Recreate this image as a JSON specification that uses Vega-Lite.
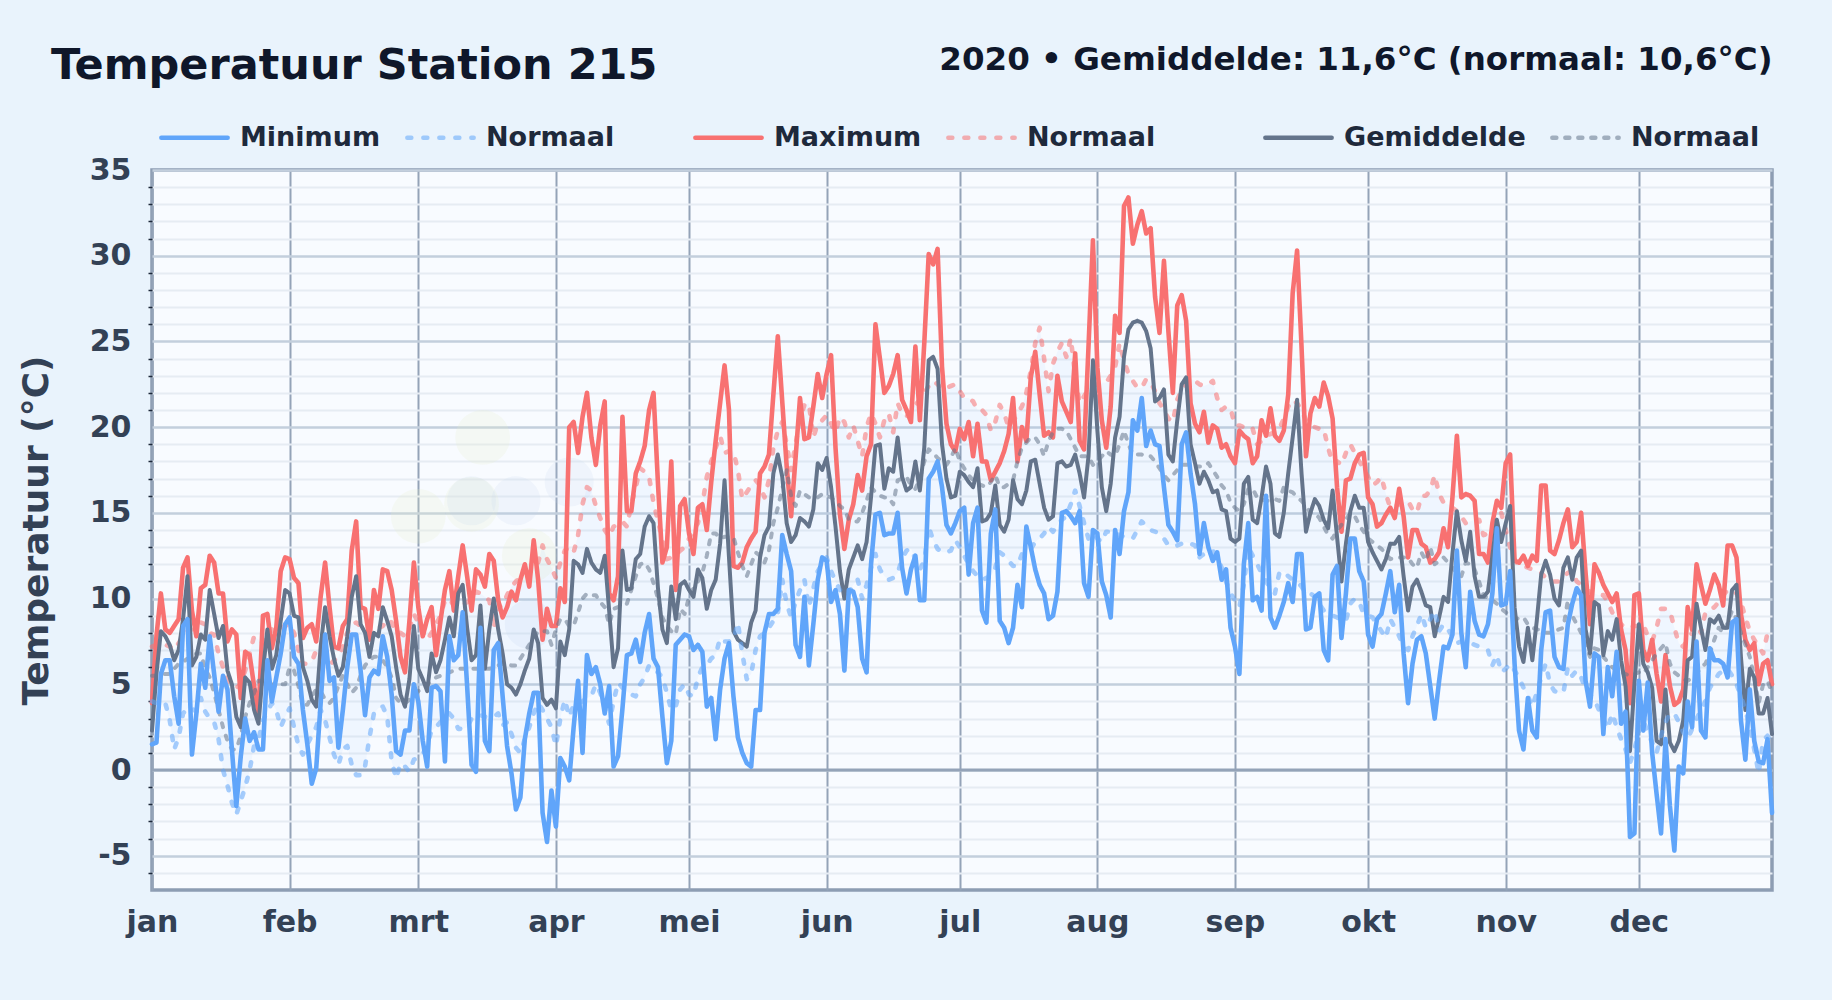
{"$schema":"https://vega.github.io/schema/vega-lite/v6.json","width":1620,"height":720,"autosize":{"type":"none"},"padding":{"left":152,"top":170,"right":60,"bottom":110},"background":"#e9f3fc",
"config":{"view":{"fill":"#f8fbff","stroke":"#8d9db3","strokeWidth":3.5},"font":"DejaVu Sans"},
"title":{"text":"Temperatuur Station 215","anchor":"start","font":"DejaVu Sans","fontSize":43,"fontWeight":"bold","color":"#0f172a","dx":33,"dy":45,"offset":0},
"data":{"values":[
{"d":0,"min":1.5,"max":3.9,"gem":2.3,"nmin":4,"nmax":7.2,"ngem":5.5},
{"d":1,"min":1.6,"max":7.8,"gem":5.6,"nmin":3.9,"nmax":7.3,"ngem":5.5},
{"d":2,"min":5.6,"max":10.3,"gem":8.1,"nmin":3.8,"nmax":7.4,"ngem":5.6},
{"d":3,"min":6.4,"max":8.2,"gem":7.8,"nmin":3.9,"nmax":7.3,"ngem":5.6},
{"d":4,"min":6.4,"max":8,"gem":7.3,"nmin":2.9,"nmax":7.2,"ngem":5.6},
{"d":5,"min":4.3,"max":8.4,"gem":6.4,"nmin":1.2,"nmax":7,"ngem":5.9},
{"d":6,"min":2.7,"max":8.8,"gem":7,"nmin":1.9,"nmax":7.4,"ngem":6.2},
{"d":7,"min":8.4,"max":11.8,"gem":8.8,"nmin":3.3,"nmax":7.8,"ngem":6.3},
{"d":8,"min":8.8,"max":12.4,"gem":11.3,"nmin":3.6,"nmax":8.1,"ngem":6.5},
{"d":9,"min":0.9,"max":9.3,"gem":6.1,"nmin":3.6,"nmax":8.2,"ngem":6.6},
{"d":10,"min":3.3,"max":7.8,"gem":6.6,"nmin":3.4,"nmax":8.4,"ngem":6.8},
{"d":11,"min":6.2,"max":10.6,"gem":7.9,"nmin":4.2,"nmax":8.6,"ngem":6.8},
{"d":12,"min":4.8,"max":10.8,"gem":7.6,"nmin":3.4,"nmax":8.5,"ngem":5.9},
{"d":13,"min":7.8,"max":12.5,"gem":10.5,"nmin":3,"nmax":8,"ngem":5.4},
{"d":14,"min":5.6,"max":12.1,"gem":9.1,"nmin":2.8,"nmax":7.9,"ngem":4.5},
{"d":15,"min":3.4,"max":10.3,"gem":7.7,"nmin":1.8,"nmax":6.8,"ngem":3.5},
{"d":16,"min":5.5,"max":10.3,"gem":8.4,"nmin":0,"nmax":6,"ngem":2.5},
{"d":17,"min":4.7,"max":7.5,"gem":5.8,"nmin":-0.9,"nmax":5.3,"ngem":1.7},
{"d":18,"min":1.2,"max":8.2,"gem":5,"nmin":-1.9,"nmax":4.9,"ngem":1.2},
{"d":19,"min":-2.1,"max":7.9,"gem":3.1,"nmin":-2.6,"nmax":4.8,"ngem":1.2},
{"d":20,"min":0.8,"max":4.2,"gem":2.5,"nmin":-1.8,"nmax":5,"ngem":2},
{"d":21,"min":3,"max":6.9,"gem":5.4,"nmin":-1,"nmax":5.8,"ngem":3.1},
{"d":22,"min":1.7,"max":6.7,"gem":5.1,"nmin":0,"nmax":6.8,"ngem":3.9},
{"d":23,"min":2.2,"max":4.9,"gem":3.5,"nmin":1.4,"nmax":7.8,"ngem":4.5},
{"d":24,"min":1.2,"max":3.3,"gem":2.7,"nmin":1.8,"nmax":7.6,"ngem":5.2},
{"d":25,"min":1.2,"max":9,"gem":5.8,"nmin":2.9,"nmax":7.4,"ngem":5.2},
{"d":26,"min":6.4,"max":9.1,"gem":8.2,"nmin":3.4,"nmax":8,"ngem":5.1},
{"d":27,"min":4,"max":7.1,"gem":5.9,"nmin":3.9,"nmax":8.2,"ngem":5},
{"d":28,"min":5.4,"max":8.3,"gem":6.7,"nmin":3.5,"nmax":8,"ngem":4.9},
{"d":29,"min":6.8,"max":11.6,"gem":8.7,"nmin":2.5,"nmax":8.3,"ngem":5},
{"d":30,"min":8.5,"max":12.4,"gem":10.5,"nmin":3.1,"nmax":8.4,"ngem":5},
{"d":31,"min":8.9,"max":12.3,"gem":10.3,"nmin":3.6,"nmax":8.5,"ngem":6},
{"d":32,"min":6.6,"max":11.2,"gem":9,"nmin":2.5,"nmax":8,"ngem":5.8},
{"d":33,"min":6.2,"max":10.9,"gem":8.9,"nmin":1.4,"nmax":7,"ngem":4.9},
{"d":34,"min":3.5,"max":7.7,"gem":6,"nmin":0.9,"nmax":6.2,"ngem":3.8},
{"d":35,"min":1.5,"max":8.3,"gem":5.2,"nmin":1.5,"nmax":6.2,"ngem":3.8},
{"d":36,"min":-0.8,"max":8.5,"gem":4.1,"nmin":2,"nmax":6.3,"ngem":4.3},
{"d":37,"min":0.1,"max":7.5,"gem":3.7,"nmin":2.5,"nmax":7,"ngem":4.7},
{"d":38,"min":3.9,"max":10.1,"gem":7.2,"nmin":3.5,"nmax":6.8,"ngem":4.6},
{"d":39,"min":7.9,"max":12.1,"gem":9.5,"nmin":2.9,"nmax":6.4,"ngem":4.1},
{"d":40,"min":5.2,"max":9.5,"gem":7.8,"nmin":1.9,"nmax":6.1,"ngem":3.9},
{"d":41,"min":5.4,"max":7.2,"gem":6.5,"nmin":0.9,"nmax":6.4,"ngem":4.2},
{"d":42,"min":1.3,"max":7.1,"gem":5.5,"nmin":0.3,"nmax":6.6,"ngem":4.9},
{"d":43,"min":3.5,"max":8.4,"gem":6,"nmin":1.2,"nmax":7.2,"ngem":5.5},
{"d":44,"min":6,"max":8.8,"gem":7.8,"nmin":1.4,"nmax":8,"ngem":5},
{"d":45,"min":7.9,"max":12.8,"gem":10.1,"nmin":0.3,"nmax":8.5,"ngem":4.5},
{"d":46,"min":7.9,"max":14.5,"gem":11.3,"nmin":-0.3,"nmax":8.6,"ngem":4.8},
{"d":47,"min":5.8,"max":9.5,"gem":8.5,"nmin":-0.3,"nmax":8.4,"ngem":5.5},
{"d":48,"min":3.2,"max":9.4,"gem":8,"nmin":0.2,"nmax":8.2,"ngem":6.1},
{"d":49,"min":5.4,"max":7.6,"gem":6.6,"nmin":1.9,"nmax":7.9,"ngem":6.4},
{"d":50,"min":5.8,"max":10.5,"gem":8,"nmin":3.3,"nmax":8,"ngem":6.6},
{"d":51,"min":5.6,"max":9.4,"gem":7.8,"nmin":3.6,"nmax":8.3,"ngem":6.6},
{"d":52,"min":7.8,"max":11.7,"gem":9.5,"nmin":3.7,"nmax":8.4,"ngem":6.4},
{"d":53,"min":6.6,"max":11.6,"gem":8.7,"nmin":3.1,"nmax":8.8,"ngem":6},
{"d":54,"min":4.4,"max":10.5,"gem":7.8,"nmin":0.5,"nmax":8.6,"ngem":5.4},
{"d":55,"min":1.1,"max":8.7,"gem":6,"nmin":-0.5,"nmax":8,"ngem":4.2},
{"d":56,"min":0.9,"max":6.6,"gem":4.4,"nmin":0.4,"nmax":8,"ngem":3.9},
{"d":57,"min":2.3,"max":5.7,"gem":3.7,"nmin":0.2,"nmax":7.8,"ngem":3.9},
{"d":58,"min":2.3,"max":8.7,"gem":5.3,"nmin":-0.1,"nmax":8.2,"ngem":4.1},
{"d":59,"min":5,"max":12.1,"gem":8.4,"nmin":0.6,"nmax":9.1,"ngem":4.3},
{"d":60,"min":4,"max":9.5,"gem":5.9,"nmin":0.7,"nmax":8.6,"ngem":4.6},
{"d":61,"min":1.7,"max":7.8,"gem":5.3,"nmin":0.9,"nmax":8,"ngem":4.8},
{"d":62,"min":0.2,"max":8.8,"gem":4.6,"nmin":1.5,"nmax":7.6,"ngem":5},
{"d":63,"min":4.8,"max":9.5,"gem":6.8,"nmin":2.3,"nmax":8,"ngem":5.2},
{"d":64,"min":4.9,"max":6.7,"gem":5.7,"nmin":2.5,"nmax":8.5,"ngem":5.4},
{"d":65,"min":4.6,"max":8.7,"gem":6.4,"nmin":2.8,"nmax":9,"ngem":5.5},
{"d":66,"min":0.5,"max":10.5,"gem":7.6,"nmin":3.1,"nmax":9.9,"ngem":5.6},
{"d":67,"min":7.8,"max":11.6,"gem":8.9,"nmin":3.3,"nmax":10,"ngem":5.7},
{"d":68,"min":6.4,"max":9.3,"gem":7.8,"nmin":3,"nmax":9.6,"ngem":5.8},
{"d":69,"min":6.7,"max":11.3,"gem":10.3,"nmin":2.4,"nmax":9.5,"ngem":5.9},
{"d":70,"min":9.2,"max":13.1,"gem":10.8,"nmin":2.4,"nmax":9.6,"ngem":5.9},
{"d":71,"min":4.9,"max":11.3,"gem":8.3,"nmin":2.5,"nmax":9.8,"ngem":5.9},
{"d":72,"min":0.3,"max":9.3,"gem":6.4,"nmin":3,"nmax":9.9,"ngem":5.9},
{"d":73,"min":-0.1,"max":11.7,"gem":6.7,"nmin":3,"nmax":10.4,"ngem":5.9},
{"d":74,"min":8.3,"max":11.4,"gem":9.6,"nmin":3.2,"nmax":10.3,"ngem":5.9},
{"d":75,"min":1.7,"max":10.7,"gem":5.9,"nmin":3.1,"nmax":10.1,"ngem":5.9},
{"d":76,"min":1.1,"max":12.6,"gem":8.2,"nmin":3.1,"nmax":9.9,"ngem":5.9},
{"d":77,"min":7,"max":12.2,"gem":10,"nmin":3.1,"nmax":8.3,"ngem":6},
{"d":78,"min":7.4,"max":9.9,"gem":8.2,"nmin":3.3,"nmax":9.5,"ngem":6.1},
{"d":79,"min":4.3,"max":8.9,"gem":6.8,"nmin":2.6,"nmax":9.6,"ngem":6.2},
{"d":80,"min":1.4,"max":9.5,"gem":5,"nmin":2.8,"nmax":10.2,"ngem":6.2},
{"d":81,"min":-0.2,"max":10.4,"gem":4.8,"nmin":2.1,"nmax":10.7,"ngem":6.1},
{"d":82,"min":-2.3,"max":9.9,"gem":4.4,"nmin":1.3,"nmax":11,"ngem":6.1},
{"d":83,"min":-1.6,"max":11.1,"gem":5,"nmin":1,"nmax":11.2,"ngem":6.5},
{"d":84,"min":1.8,"max":12,"gem":5.8,"nmin":1.8,"nmax":11.3,"ngem":6.9},
{"d":85,"min":3.3,"max":10.7,"gem":6.5,"nmin":2.5,"nmax":11.5,"ngem":7.3},
{"d":86,"min":4.5,"max":13.4,"gem":8.2,"nmin":3.3,"nmax":11.8,"ngem":7.7},
{"d":87,"min":4.5,"max":11.1,"gem":7.4,"nmin":3.9,"nmax":12.1,"ngem":8.1},
{"d":88,"min":-2.5,"max":7.6,"gem":4.2,"nmin":3.5,"nmax":13.1,"ngem":8.1},
{"d":89,"min":-4.2,"max":9.4,"gem":3.8,"nmin":3,"nmax":12.3,"ngem":8.1},
{"d":90,"min":-1.2,"max":8.4,"gem":4.1,"nmin":2.5,"nmax":11.8,"ngem":7.3},
{"d":91,"min":-3.3,"max":8.4,"gem":3.6,"nmin":1.4,"nmax":11.2,"ngem":8.2},
{"d":92,"min":0.7,"max":10.6,"gem":7.5,"nmin":3,"nmax":12.1,"ngem":8.8},
{"d":93,"min":0.2,"max":9.8,"gem":6.7,"nmin":4.1,"nmax":12.8,"ngem":8.8},
{"d":94,"min":-0.6,"max":20,"gem":8.2,"nmin":3.1,"nmax":13,"ngem":8.4},
{"d":95,"min":2.5,"max":20.3,"gem":12.2,"nmin":3.8,"nmax":12.7,"ngem":8.4},
{"d":96,"min":5.2,"max":18.5,"gem":12,"nmin":3.9,"nmax":13.7,"ngem":9.2},
{"d":97,"min":1,"max":20.6,"gem":11.5,"nmin":4,"nmax":15.5,"ngem":10},
{"d":98,"min":6.7,"max":22,"gem":12.9,"nmin":4.2,"nmax":16.5,"ngem":10.3},
{"d":99,"min":5.6,"max":19.4,"gem":12.1,"nmin":4.3,"nmax":16.3,"ngem":10.2},
{"d":100,"min":6,"max":17.8,"gem":11.7,"nmin":5,"nmax":15.4,"ngem":10.2},
{"d":101,"min":5,"max":20.1,"gem":11.5,"nmin":4.5,"nmax":14.7,"ngem":9.8},
{"d":102,"min":3.3,"max":21.5,"gem":12.5,"nmin":3.6,"nmax":14,"ngem":9.5},
{"d":103,"min":4.9,"max":10.3,"gem":9.3,"nmin":2.7,"nmax":13.6,"ngem":8.5},
{"d":104,"min":0.2,"max":9.9,"gem":6,"nmin":4,"nmax":14.2,"ngem":9.4},
{"d":105,"min":0.8,"max":11.3,"gem":7.1,"nmin":5.1,"nmax":14.3,"ngem":9.5},
{"d":106,"min":3.6,"max":20.6,"gem":12.8,"nmin":4.8,"nmax":14.5,"ngem":9.6},
{"d":107,"min":6.7,"max":15.1,"gem":10.5,"nmin":4.6,"nmax":14.2,"ngem":9.7},
{"d":108,"min":6.8,"max":15.1,"gem":10.6,"nmin":4.4,"nmax":15.5,"ngem":10.5},
{"d":109,"min":7.6,"max":17.3,"gem":12.3,"nmin":4.3,"nmax":16.5,"ngem":11.3},
{"d":110,"min":6.3,"max":18,"gem":12.6,"nmin":5,"nmax":17.6,"ngem":12},
{"d":111,"min":8,"max":18.9,"gem":14.2,"nmin":5.4,"nmax":17.4,"ngem":12.1},
{"d":112,"min":9.1,"max":21,"gem":14.8,"nmin":6.1,"nmax":17.1,"ngem":11.7},
{"d":113,"min":6.5,"max":22,"gem":14.4,"nmin":5.8,"nmax":15.6,"ngem":10.9},
{"d":114,"min":6,"max":16.7,"gem":10.6,"nmin":5.7,"nmax":14.5,"ngem":10},
{"d":115,"min":3.1,"max":12.1,"gem":8.2,"nmin":5.4,"nmax":13.5,"ngem":8.9},
{"d":116,"min":0.4,"max":13,"gem":7.4,"nmin":4.5,"nmax":12.3,"ngem":8.4},
{"d":117,"min":1.7,"max":18,"gem":10.7,"nmin":3.5,"nmax":12.4,"ngem":8.1},
{"d":118,"min":7.3,"max":10.5,"gem":8.8,"nmin":3.7,"nmax":12.5,"ngem":7.9},
{"d":119,"min":7.6,"max":15.4,"gem":10.8,"nmin":4.7,"nmax":12.8,"ngem":9.4},
{"d":120,"min":7.9,"max":15.8,"gem":11,"nmin":5,"nmax":13,"ngem":9.1},
{"d":121,"min":7.8,"max":13.8,"gem":10.5,"nmin":4.4,"nmax":13.5,"ngem":10.1},
{"d":122,"min":7,"max":12.6,"gem":10.1,"nmin":4.3,"nmax":14,"ngem":10.6},
{"d":123,"min":7.3,"max":15.3,"gem":11.7,"nmin":5.4,"nmax":14.4,"ngem":11},
{"d":124,"min":6.9,"max":15.5,"gem":11.2,"nmin":6,"nmax":15.5,"ngem":11.5},
{"d":125,"min":3.7,"max":14,"gem":9.4,"nmin":6.1,"nmax":17.1,"ngem":12.5},
{"d":126,"min":4.2,"max":16.8,"gem":10.5,"nmin":6.5,"nmax":18,"ngem":13.8},
{"d":127,"min":1.8,"max":19.2,"gem":11.1,"nmin":6.7,"nmax":18.8,"ngem":13.8},
{"d":128,"min":4.7,"max":21.4,"gem":13.2,"nmin":7.7,"nmax":19.5,"ngem":13.5},
{"d":129,"min":6.5,"max":23.6,"gem":16.9,"nmin":7.5,"nmax":18.5,"ngem":13.6},
{"d":130,"min":7.4,"max":21,"gem":12.4,"nmin":7.5,"nmax":18.6,"ngem":13.6},
{"d":131,"min":4.3,"max":11.9,"gem":8.1,"nmin":7.6,"nmax":18.6,"ngem":13.6},
{"d":132,"min":1.9,"max":11.8,"gem":7.6,"nmin":8.6,"nmax":17.5,"ngem":12.7},
{"d":133,"min":1,"max":12.1,"gem":7.4,"nmin":6.8,"nmax":15.8,"ngem":11.9},
{"d":134,"min":0.4,"max":13,"gem":7.2,"nmin":5.3,"nmax":16.2,"ngem":11.3},
{"d":135,"min":0.2,"max":13.5,"gem":8.6,"nmin":5.6,"nmax":16.6,"ngem":12},
{"d":136,"min":3.5,"max":13.9,"gem":9.3,"nmin":7,"nmax":16.9,"ngem":12.7},
{"d":137,"min":3.5,"max":17.3,"gem":12.4,"nmin":7.8,"nmax":16.6,"ngem":12.5},
{"d":138,"min":8,"max":17.7,"gem":13.7,"nmin":8,"nmax":15.9,"ngem":12.1},
{"d":139,"min":9.1,"max":18.4,"gem":14.2,"nmin":8.3,"nmax":16.9,"ngem":12.8},
{"d":140,"min":9.1,"max":21.9,"gem":17.3,"nmin":8.7,"nmax":18.8,"ngem":14.4},
{"d":141,"min":9.4,"max":25.3,"gem":18.4,"nmin":9.1,"nmax":19.8,"ngem":15.3},
{"d":142,"min":13.7,"max":21.5,"gem":17.1,"nmin":11.1,"nmax":20.3,"ngem":16.4},
{"d":143,"min":12.6,"max":17.7,"gem":14.4,"nmin":9.7,"nmax":19,"ngem":17.5},
{"d":144,"min":11.6,"max":14.8,"gem":13.3,"nmin":8.9,"nmax":17.5,"ngem":16},
{"d":145,"min":7.3,"max":18.2,"gem":13.7,"nmin":9.8,"nmax":19,"ngem":15.4},
{"d":146,"min":6.6,"max":21.7,"gem":14.7,"nmin":10.5,"nmax":20.5,"ngem":16.3},
{"d":147,"min":10.1,"max":19.3,"gem":14.5,"nmin":11.1,"nmax":21.3,"ngem":16.1},
{"d":148,"min":6.1,"max":19.4,"gem":14.2,"nmin":9.5,"nmax":21.4,"ngem":15.9},
{"d":149,"min":8.5,"max":21.2,"gem":15.2,"nmin":10.6,"nmax":19.4,"ngem":15.9},
{"d":150,"min":11.1,"max":23.1,"gem":17.9,"nmin":11.6,"nmax":20.2,"ngem":15.9},
{"d":151,"min":12.4,"max":21.7,"gem":17.5,"nmin":12,"nmax":20.4,"ngem":16.1},
{"d":152,"min":12.2,"max":23.1,"gem":18.2,"nmin":12.4,"nmax":20.7,"ngem":16},
{"d":153,"min":9.8,"max":24.2,"gem":16.5,"nmin":11.6,"nmax":20.2,"ngem":15.9},
{"d":154,"min":10.5,"max":18.8,"gem":14.2,"nmin":11,"nmax":19.7,"ngem":15.7},
{"d":155,"min":9.1,"max":14.9,"gem":11.6,"nmin":10.5,"nmax":20.6,"ngem":15.4},
{"d":156,"min":5.8,"max":12.9,"gem":10,"nmin":10.2,"nmax":20.3,"ngem":15.2},
{"d":157,"min":10.5,"max":14.6,"gem":11.7,"nmin":10.3,"nmax":19.4,"ngem":14.6},
{"d":158,"min":10.4,"max":15.5,"gem":12.4,"nmin":10.8,"nmax":20.1,"ngem":14.5},
{"d":159,"min":9.5,"max":17.2,"gem":13.1,"nmin":11.1,"nmax":19.2,"ngem":14.5},
{"d":160,"min":6.5,"max":16.3,"gem":12.3,"nmin":10,"nmax":18.3,"ngem":15},
{"d":161,"min":5.7,"max":18.3,"gem":13.3,"nmin":10.8,"nmax":20,"ngem":15.7},
{"d":162,"min":12,"max":19,"gem":15.9,"nmin":11.8,"nmax":20.8,"ngem":16.5},
{"d":163,"min":14.9,"max":26,"gem":18.9,"nmin":12.6,"nmax":20.2,"ngem":16.2},
{"d":164,"min":15,"max":24,"gem":19,"nmin":11.7,"nmax":19.4,"ngem":16},
{"d":165,"min":13.7,"max":22,"gem":16.4,"nmin":11.3,"nmax":20.4,"ngem":15.9},
{"d":166,"min":13.8,"max":22.4,"gem":17.6,"nmin":11.1,"nmax":20.8,"ngem":15.9},
{"d":167,"min":13.8,"max":23.1,"gem":17.4,"nmin":11.2,"nmax":19.7,"ngem":15.5},
{"d":168,"min":15,"max":24.2,"gem":19.4,"nmin":11.5,"nmax":21.4,"ngem":16.9},
{"d":169,"min":11.8,"max":21.6,"gem":17.1,"nmin":12.3,"nmax":20.8,"ngem":17},
{"d":170,"min":10.3,"max":21,"gem":16.3,"nmin":12.8,"nmax":20.6,"ngem":17.1},
{"d":171,"min":11.7,"max":20.3,"gem":16.5,"nmin":12.9,"nmax":21,"ngem":16.6},
{"d":172,"min":12.5,"max":24.7,"gem":18,"nmin":12.3,"nmax":21.3,"ngem":16.4},
{"d":173,"min":9.9,"max":20.4,"gem":16.3,"nmin":11.7,"nmax":21.6,"ngem":17},
{"d":174,"min":9.9,"max":24.9,"gem":18.8,"nmin":12.2,"nmax":22,"ngem":18},
{"d":175,"min":17,"max":30.1,"gem":23.9,"nmin":14.2,"nmax":22.4,"ngem":18.7},
{"d":176,"min":17.4,"max":29.5,"gem":24.1,"nmin":13.4,"nmax":22.7,"ngem":18.5},
{"d":177,"min":18,"max":30.4,"gem":23.4,"nmin":12.9,"nmax":22.5,"ngem":18.2},
{"d":178,"min":16.5,"max":23.5,"gem":19,"nmin":12.7,"nmax":22.2,"ngem":18},
{"d":179,"min":14.3,"max":20.2,"gem":17,"nmin":12.7,"nmax":22.3,"ngem":17.8},
{"d":180,"min":13.8,"max":19,"gem":15.9,"nmin":12.8,"nmax":22.4,"ngem":18.2},
{"d":181,"min":14.4,"max":18.6,"gem":16,"nmin":13.4,"nmax":22.5,"ngem":18.8},
{"d":182,"min":15.1,"max":19.9,"gem":17.4,"nmin":13,"nmax":22.1,"ngem":18},
{"d":183,"min":15.3,"max":19.3,"gem":17.2,"nmin":12.5,"nmax":21.7,"ngem":17.6},
{"d":184,"min":11.4,"max":20.3,"gem":16.8,"nmin":12,"nmax":21.7,"ngem":17.2},
{"d":185,"min":14.4,"max":18.3,"gem":16.5,"nmin":11.6,"nmax":21.5,"ngem":16.9},
{"d":186,"min":15.3,"max":20.2,"gem":17.6,"nmin":11.3,"nmax":21,"ngem":16.7},
{"d":187,"min":9.3,"max":18,"gem":14.5,"nmin":11.1,"nmax":21,"ngem":16.6},
{"d":188,"min":8.6,"max":18,"gem":14.6,"nmin":11.2,"nmax":20.7,"ngem":16.5},
{"d":189,"min":13.8,"max":16.9,"gem":15,"nmin":11.3,"nmax":19.8,"ngem":16.8},
{"d":190,"min":15.2,"max":17.4,"gem":16.6,"nmin":11.8,"nmax":20.3,"ngem":17.2},
{"d":191,"min":8.7,"max":17.9,"gem":14.3,"nmin":12.7,"nmax":21.3,"ngem":16.5},
{"d":192,"min":8.3,"max":18.6,"gem":13.9,"nmin":12.5,"nmax":20.8,"ngem":16.5},
{"d":193,"min":7.4,"max":19.6,"gem":14.6,"nmin":12.2,"nmax":20,"ngem":16.7},
{"d":194,"min":8.3,"max":21.7,"gem":16.9,"nmin":11.9,"nmax":20.3,"ngem":16.9},
{"d":195,"min":10.8,"max":18,"gem":15.8,"nmin":11.9,"nmax":20.8,"ngem":18},
{"d":196,"min":9.5,"max":20,"gem":15.5,"nmin":12.6,"nmax":21.2,"ngem":18.8},
{"d":197,"min":14.2,"max":19.2,"gem":16.3,"nmin":12.8,"nmax":22,"ngem":19.1},
{"d":198,"min":13,"max":22.9,"gem":18,"nmin":12.9,"nmax":23.3,"ngem":19.4},
{"d":199,"min":11.7,"max":24.4,"gem":18.1,"nmin":13.3,"nmax":24.9,"ngem":19.4},
{"d":200,"min":10.8,"max":21.9,"gem":16.7,"nmin":13.5,"nmax":25.8,"ngem":19},
{"d":201,"min":10.3,"max":19.5,"gem":15.3,"nmin":13.8,"nmax":24,"ngem":18.3},
{"d":202,"min":8.8,"max":19.7,"gem":14.6,"nmin":14.2,"nmax":22.1,"ngem":19.2},
{"d":203,"min":9,"max":19.4,"gem":14.8,"nmin":13.9,"nmax":23.7,"ngem":19.7},
{"d":204,"min":10.4,"max":23,"gem":17.9,"nmin":14.3,"nmax":24.4,"ngem":19.9},
{"d":205,"min":15,"max":21.5,"gem":18,"nmin":14.6,"nmax":24.9,"ngem":19.9},
{"d":206,"min":15.1,"max":20.9,"gem":17.7,"nmin":14.8,"nmax":24.1,"ngem":19.8},
{"d":207,"min":14.8,"max":20.3,"gem":17.8,"nmin":15.5,"nmax":25.2,"ngem":19.3},
{"d":208,"min":14.4,"max":24.3,"gem":18.4,"nmin":16.3,"nmax":23,"ngem":18.8},
{"d":209,"min":15.1,"max":19.2,"gem":17.3,"nmin":15.4,"nmax":21.4,"ngem":18.3},
{"d":210,"min":10.9,"max":18.7,"gem":15.9,"nmin":14.4,"nmax":21.8,"ngem":18.3},
{"d":211,"min":10.1,"max":24.7,"gem":18.3,"nmin":13.5,"nmax":22.2,"ngem":18.3},
{"d":212,"min":14,"max":30.9,"gem":23.9,"nmin":13.8,"nmax":22.4,"ngem":17.8},
{"d":213,"min":13.8,"max":23.5,"gem":19.8,"nmin":13.5,"nmax":22.5,"ngem":18},
{"d":214,"min":11,"max":20.4,"gem":16.5,"nmin":13.3,"nmax":22.6,"ngem":18.3},
{"d":215,"min":10.2,"max":18.8,"gem":15.1,"nmin":13.9,"nmax":22.6,"ngem":18.6},
{"d":216,"min":8.9,"max":21.2,"gem":16.7,"nmin":13.9,"nmax":23,"ngem":18.4},
{"d":217,"min":14,"max":26.5,"gem":19.4,"nmin":13.9,"nmax":23.5,"ngem":18.3},
{"d":218,"min":12.6,"max":25.5,"gem":20.6,"nmin":13.7,"nmax":24.9,"ngem":19},
{"d":219,"min":15.1,"max":32.9,"gem":24.1,"nmin":13.6,"nmax":23.9,"ngem":19.8},
{"d":220,"min":16.2,"max":33.4,"gem":25.7,"nmin":13.5,"nmax":23.1,"ngem":19},
{"d":221,"min":20.4,"max":30.7,"gem":26.1,"nmin":13.5,"nmax":22.7,"ngem":18.4},
{"d":222,"min":19.8,"max":31.8,"gem":26.2,"nmin":14,"nmax":22.3,"ngem":18.4},
{"d":223,"min":21.7,"max":32.6,"gem":26.1,"nmin":14.5,"nmax":22.3,"ngem":18.4},
{"d":224,"min":18.9,"max":31.3,"gem":25.6,"nmin":14.2,"nmax":22.8,"ngem":18.3},
{"d":225,"min":19.8,"max":31.6,"gem":24.6,"nmin":14,"nmax":22.6,"ngem":18.3},
{"d":226,"min":19,"max":27.6,"gem":21.5,"nmin":13.9,"nmax":22.1,"ngem":18},
{"d":227,"min":18.9,"max":25.5,"gem":21.7,"nmin":13.8,"nmax":21.4,"ngem":17.6},
{"d":228,"min":16.5,"max":29.7,"gem":22.2,"nmin":13.5,"nmax":21,"ngem":17.2},
{"d":229,"min":14.3,"max":25.6,"gem":18.4,"nmin":13.1,"nmax":20.5,"ngem":16.9},
{"d":230,"min":13.9,"max":22,"gem":18,"nmin":13.1,"nmax":20.3,"ngem":17.2},
{"d":231,"min":13.4,"max":27.1,"gem":20.4,"nmin":13.1,"nmax":21.6,"ngem":17.5},
{"d":232,"min":19,"max":27.7,"gem":22.5,"nmin":13.2,"nmax":22.2,"ngem":17.8},
{"d":233,"min":19.7,"max":26.2,"gem":22.9,"nmin":13.3,"nmax":22.5,"ngem":17.8},
{"d":234,"min":17.3,"max":21.4,"gem":19,"nmin":13.2,"nmax":22.8,"ngem":17.8},
{"d":235,"min":15.5,"max":20.2,"gem":17.9,"nmin":13.1,"nmax":22.7,"ngem":17.7},
{"d":236,"min":12.6,"max":19.7,"gem":16.7,"nmin":12.4,"nmax":22.5,"ngem":17.7},
{"d":237,"min":14.4,"max":20.9,"gem":17.4,"nmin":12.6,"nmax":22.4,"ngem":17.7},
{"d":238,"min":13,"max":19.1,"gem":16.9,"nmin":12.7,"nmax":22.5,"ngem":17.9},
{"d":239,"min":12.2,"max":20.1,"gem":16.2,"nmin":12.8,"nmax":22.7,"ngem":17.5},
{"d":240,"min":12.7,"max":19.9,"gem":16.3,"nmin":12.4,"nmax":21.7,"ngem":17.1},
{"d":241,"min":11.1,"max":18.8,"gem":15.2,"nmin":11.8,"nmax":21,"ngem":16.6},
{"d":242,"min":11.7,"max":19,"gem":15.1,"nmin":11,"nmax":21.2,"ngem":16.3},
{"d":243,"min":8.3,"max":18.3,"gem":13.5,"nmin":10.3,"nmax":21.1,"ngem":15.6},
{"d":244,"min":7.2,"max":17.9,"gem":13.3,"nmin":9.9,"nmax":20.1,"ngem":15.3},
{"d":245,"min":5.6,"max":19.8,"gem":13.5,"nmin":9.5,"nmax":20.1,"ngem":15.1},
{"d":246,"min":12,"max":19.5,"gem":16.7,"nmin":10.8,"nmax":20,"ngem":15.5},
{"d":247,"min":14.4,"max":19.3,"gem":17.1,"nmin":13,"nmax":19.8,"ngem":16.4},
{"d":248,"min":9.9,"max":17.9,"gem":14.6,"nmin":12.5,"nmax":19.9,"ngem":16.4},
{"d":249,"min":10.1,"max":18.3,"gem":14.4,"nmin":12,"nmax":19,"ngem":15.9},
{"d":250,"min":9.3,"max":20.4,"gem":15.9,"nmin":11.5,"nmax":19.2,"ngem":15.8},
{"d":251,"min":16,"max":19.5,"gem":17.7,"nmin":11,"nmax":19.5,"ngem":15.7},
{"d":252,"min":8.9,"max":21.1,"gem":16.7,"nmin":10.6,"nmax":19.6,"ngem":15.7},
{"d":253,"min":8.3,"max":19.5,"gem":13.8,"nmin":10.3,"nmax":19.7,"ngem":15.8},
{"d":254,"min":9,"max":19.2,"gem":13.6,"nmin":11.5,"nmax":19.9,"ngem":15.7},
{"d":255,"min":9.8,"max":19.8,"gem":15,"nmin":11.6,"nmax":20.5,"ngem":16.5},
{"d":256,"min":10.9,"max":21.9,"gem":17.3,"nmin":11.3,"nmax":21.2,"ngem":16.3},
{"d":257,"min":9.8,"max":27.8,"gem":19.4,"nmin":11.1,"nmax":21.6,"ngem":16.2},
{"d":258,"min":12.6,"max":30.3,"gem":21.6,"nmin":11,"nmax":21.4,"ngem":15.9},
{"d":259,"min":12.6,"max":24.7,"gem":17.3,"nmin":10.7,"nmax":21,"ngem":15.7},
{"d":260,"min":8.2,"max":18.3,"gem":13.9,"nmin":10.3,"nmax":20.4,"ngem":15.4},
{"d":261,"min":8.3,"max":20.8,"gem":15,"nmin":10.3,"nmax":20.1,"ngem":15},
{"d":262,"min":10.1,"max":21.7,"gem":15.8,"nmin":10.1,"nmax":20,"ngem":15},
{"d":263,"min":10.3,"max":21.2,"gem":15.4,"nmin":9.7,"nmax":19.9,"ngem":14.7},
{"d":264,"min":7,"max":22.6,"gem":14.6,"nmin":9.3,"nmax":19.9,"ngem":14.2},
{"d":265,"min":6.4,"max":21.8,"gem":14.1,"nmin":9.1,"nmax":18.8,"ngem":13.7},
{"d":266,"min":11.4,"max":20.5,"gem":16.3,"nmin":9,"nmax":17.9,"ngem":13.5},
{"d":267,"min":11.9,"max":16.5,"gem":13.6,"nmin":8.9,"nmax":18,"ngem":14},
{"d":268,"min":7.7,"max":13.9,"gem":11,"nmin":8.7,"nmax":17.8,"ngem":14.3},
{"d":269,"min":10.3,"max":16.9,"gem":13.2,"nmin":8.7,"nmax":18.5,"ngem":14.6},
{"d":270,"min":13.5,"max":17,"gem":15.1,"nmin":9.7,"nmax":19,"ngem":15},
{"d":271,"min":13.5,"max":17.9,"gem":16,"nmin":10,"nmax":18.5,"ngem":14.8},
{"d":272,"min":11.6,"max":18.4,"gem":15.3,"nmin":9.8,"nmax":18,"ngem":14.3},
{"d":273,"min":11,"max":18.5,"gem":15.3,"nmin":9.1,"nmax":17.6,"ngem":13.9},
{"d":274,"min":7.9,"max":15.9,"gem":13.3,"nmin":9,"nmax":17.1,"ngem":13.5},
{"d":275,"min":7.2,"max":15.5,"gem":12.7,"nmin":8.9,"nmax":16.6,"ngem":13.3},
{"d":276,"min":8.8,"max":14.2,"gem":12.2,"nmin":8.5,"nmax":16.8,"ngem":13.1},
{"d":277,"min":9.1,"max":14.4,"gem":11.7,"nmin":8.1,"nmax":17.1,"ngem":12.9},
{"d":278,"min":10.3,"max":14.9,"gem":12.3,"nmin":7.7,"nmax":16.1,"ngem":12.6},
{"d":279,"min":11.6,"max":15.3,"gem":13.2,"nmin":8.8,"nmax":15.3,"ngem":12.3},
{"d":280,"min":9.2,"max":14.7,"gem":13.2,"nmin":8.3,"nmax":15.4,"ngem":12.4},
{"d":281,"min":10.8,"max":16.4,"gem":13.6,"nmin":7.8,"nmax":15.5,"ngem":12.4},
{"d":282,"min":6.8,"max":14.8,"gem":11.3,"nmin":7.2,"nmax":15.6,"ngem":12.4},
{"d":283,"min":3.9,"max":12.4,"gem":9.3,"nmin":7,"nmax":15.7,"ngem":12.4},
{"d":284,"min":6.2,"max":14,"gem":10.7,"nmin":7.8,"nmax":15.2,"ngem":12},
{"d":285,"min":7.6,"max":14,"gem":11.1,"nmin":8.4,"nmax":15,"ngem":11.8},
{"d":286,"min":7.8,"max":13.2,"gem":10.4,"nmin":9.1,"nmax":16,"ngem":12.7},
{"d":287,"min":6.8,"max":13,"gem":9.6,"nmin":8.3,"nmax":16,"ngem":12.2},
{"d":288,"min":4.9,"max":12.1,"gem":9.5,"nmin":8.8,"nmax":16.3,"ngem":13},
{"d":289,"min":3,"max":12.3,"gem":7.8,"nmin":9.3,"nmax":17.2,"ngem":12},
{"d":290,"min":5.2,"max":12.7,"gem":8.9,"nmin":8.1,"nmax":16.1,"ngem":12.2},
{"d":291,"min":7.2,"max":14.1,"gem":10.1,"nmin":8.5,"nmax":15.6,"ngem":12.4},
{"d":292,"min":7.1,"max":13,"gem":9.8,"nmin":8.2,"nmax":15.5,"ngem":12.1},
{"d":293,"min":7.9,"max":15.9,"gem":12.6,"nmin":7.8,"nmax":15.3,"ngem":11.8},
{"d":294,"min":12.8,"max":19.5,"gem":15.1,"nmin":7.4,"nmax":15.1,"ngem":11.5},
{"d":295,"min":8,"max":15.9,"gem":13.4,"nmin":7.5,"nmax":14.8,"ngem":11.3},
{"d":296,"min":6,"max":16.1,"gem":12.2,"nmin":7.4,"nmax":14.4,"ngem":12.1},
{"d":297,"min":10.4,"max":16,"gem":13.9,"nmin":7.4,"nmax":14.5,"ngem":12},
{"d":298,"min":8.7,"max":15.7,"gem":11.3,"nmin":7.3,"nmax":14.6,"ngem":11.7},
{"d":299,"min":7.9,"max":12.6,"gem":10.1,"nmin":7.2,"nmax":14.6,"ngem":11},
{"d":300,"min":7.8,"max":12.6,"gem":10.1,"nmin":7.1,"nmax":13.7,"ngem":10.2},
{"d":301,"min":8.5,"max":12.1,"gem":10.4,"nmin":7,"nmax":13.8,"ngem":10},
{"d":302,"min":10.3,"max":14.4,"gem":12.5,"nmin":6.1,"nmax":14,"ngem":9.9},
{"d":303,"min":14.1,"max":15.7,"gem":14.6,"nmin":6.7,"nmax":14.5,"ngem":9.7},
{"d":304,"min":9.6,"max":15.3,"gem":13.3,"nmin":5.7,"nmax":15,"ngem":9.4},
{"d":305,"min":9.7,"max":17.9,"gem":14.4,"nmin":5.9,"nmax":14,"ngem":9.2},
{"d":306,"min":11.6,"max":18.4,"gem":15.4,"nmin":6.2,"nmax":13,"ngem":9},
{"d":307,"min":6.2,"max":12.2,"gem":9.5,"nmin":5.8,"nmax":12.3,"ngem":8.9},
{"d":308,"min":2.3,"max":12.1,"gem":7.2,"nmin":5.4,"nmax":11.9,"ngem":8.8},
{"d":309,"min":1.2,"max":12.5,"gem":6.3,"nmin":4.8,"nmax":11.9,"ngem":8.9},
{"d":310,"min":4.2,"max":11.9,"gem":8.3,"nmin":4.3,"nmax":11.8,"ngem":8.5},
{"d":311,"min":2.3,"max":12.5,"gem":6.4,"nmin":3.7,"nmax":11.7,"ngem":8.3},
{"d":312,"min":1.9,"max":12.2,"gem":8.7,"nmin":4.5,"nmax":11.6,"ngem":8.2},
{"d":313,"min":7,"max":16.6,"gem":11.4,"nmin":5.4,"nmax":11.5,"ngem":8.2},
{"d":314,"min":9.2,"max":16.6,"gem":12.2,"nmin":6.2,"nmax":11.2,"ngem":8},
{"d":315,"min":9.3,"max":12.8,"gem":11.4,"nmin":5,"nmax":11,"ngem":8},
{"d":316,"min":6.6,"max":12.6,"gem":10,"nmin":4.6,"nmax":11,"ngem":8.1},
{"d":317,"min":6,"max":13.4,"gem":9.6,"nmin":4.5,"nmax":11,"ngem":8.2},
{"d":318,"min":5.9,"max":14.4,"gem":11.8,"nmin":4.5,"nmax":11.3,"ngem":8.3},
{"d":319,"min":8.5,"max":15.2,"gem":12.4,"nmin":6,"nmax":11.5,"ngem":9.9},
{"d":320,"min":9.7,"max":13,"gem":11.1,"nmin":5.5,"nmax":11.6,"ngem":9},
{"d":321,"min":10.6,"max":13.3,"gem":12.4,"nmin":5.8,"nmax":11,"ngem":8.5},
{"d":322,"min":10.2,"max":15,"gem":12.8,"nmin":5.4,"nmax":10.8,"ngem":8},
{"d":323,"min":5.2,"max":11.5,"gem":8.2,"nmin":4.7,"nmax":10.5,"ngem":7.3},
{"d":324,"min":3.7,"max":8.5,"gem":6.8,"nmin":4.4,"nmax":10.4,"ngem":6.6},
{"d":325,"min":6.8,"max":12,"gem":9.8,"nmin":4.1,"nmax":10.3,"ngem":7.1},
{"d":326,"min":6.6,"max":11.5,"gem":9.6,"nmin":3.5,"nmax":10.2,"ngem":7},
{"d":327,"min":2.1,"max":10.8,"gem":6.7,"nmin":3,"nmax":10.2,"ngem":6.6},
{"d":328,"min":6,"max":10.3,"gem":8.1,"nmin":2.4,"nmax":9.8,"ngem":6.3},
{"d":329,"min":4.3,"max":9.8,"gem":7.6,"nmin":3.3,"nmax":9.2,"ngem":6},
{"d":330,"min":6.9,"max":10.3,"gem":8.8,"nmin":2.5,"nmax":8.9,"ngem":5.8},
{"d":331,"min":2.7,"max":8.2,"gem":6.4,"nmin":1.8,"nmax":8.5,"ngem":5.7},
{"d":332,"min":3.4,"max":7,"gem":4.9,"nmin":1.2,"nmax":8.3,"ngem":5.6},
{"d":333,"min":-3.9,"max":3.9,"gem":1.1,"nmin":0.4,"nmax":8.3,"ngem":5.5},
{"d":334,"min":-3.7,"max":10.2,"gem":5,"nmin":1.2,"nmax":8.4,"ngem":5.6},
{"d":335,"min":5.2,"max":10.3,"gem":8.5,"nmin":2.2,"nmax":8.4,"ngem":5.7},
{"d":336,"min":2.3,"max":7,"gem":6.2,"nmin":2.9,"nmax":8.5,"ngem":5.6},
{"d":337,"min":5.1,"max":6.4,"gem":5.7,"nmin":2.2,"nmax":7.8,"ngem":6},
{"d":338,"min":1,"max":7.6,"gem":4.8,"nmin":1.6,"nmax":7.5,"ngem":6.4},
{"d":339,"min":-1.4,"max":5.6,"gem":1.7,"nmin":1,"nmax":8.3,"ngem":6.8},
{"d":340,"min":-3.7,"max":4,"gem":1.5,"nmin":2,"nmax":9.4,"ngem":7.1},
{"d":341,"min":1.8,"max":6.7,"gem":4.7,"nmin":2.8,"nmax":9.4,"ngem":7.4},
{"d":342,"min":-2.1,"max":4.9,"gem":1.6,"nmin":3.3,"nmax":9.3,"ngem":6.2},
{"d":343,"min":-4.7,"max":3.8,"gem":1.1,"nmin":3.3,"nmax":8.3,"ngem":5.7},
{"d":344,"min":0.2,"max":4,"gem":1.7,"nmin":2.8,"nmax":7.4,"ngem":5.5},
{"d":345,"min":-0.2,"max":4.7,"gem":2.9,"nmin":2.2,"nmax":7.2,"ngem":5.3},
{"d":346,"min":4,"max":9.5,"gem":6.4,"nmin":1.8,"nmax":7.6,"ngem":5.2},
{"d":347,"min":2.5,"max":8.2,"gem":6.6,"nmin":2.4,"nmax":8,"ngem":5.4},
{"d":348,"min":7.5,"max":12,"gem":9.7,"nmin":3,"nmax":8.4,"ngem":5.6},
{"d":349,"min":2.3,"max":10.8,"gem":8.3,"nmin":3.5,"nmax":8,"ngem":6},
{"d":350,"min":1.9,"max":9.7,"gem":7,"nmin":4,"nmax":9.2,"ngem":6.2},
{"d":351,"min":7.1,"max":10.5,"gem":8.8,"nmin":4.8,"nmax":9.3,"ngem":6.8},
{"d":352,"min":6.4,"max":11.4,"gem":8.6,"nmin":5.2,"nmax":9.5,"ngem":7.6},
{"d":353,"min":6.4,"max":10.8,"gem":9,"nmin":5.6,"nmax":9.8,"ngem":8.3},
{"d":354,"min":6.2,"max":9.6,"gem":8.3,"nmin":5.8,"nmax":10.2,"ngem":8},
{"d":355,"min":5.4,"max":13.1,"gem":8.3,"nmin":5.9,"nmax":10.5,"ngem":8.6},
{"d":356,"min":8.6,"max":13.1,"gem":10.5,"nmin":5.5,"nmax":10.5,"ngem":9.3},
{"d":357,"min":8.8,"max":12.4,"gem":10.8,"nmin":5,"nmax":10.3,"ngem":8.8},
{"d":358,"min":2.9,"max":9.1,"gem":6.6,"nmin":4.3,"nmax":9.8,"ngem":8},
{"d":359,"min":0.6,"max":7.6,"gem":3.5,"nmin":3.5,"nmax":8.9,"ngem":7.3},
{"d":360,"min":4.7,"max":7,"gem":5.9,"nmin":2.5,"nmax":8.1,"ngem":6.6},
{"d":361,"min":1.7,"max":7.4,"gem":5.4,"nmin":1.2,"nmax":7.6,"ngem":5.4},
{"d":362,"min":0.5,"max":5,"gem":3.3,"nmin":-0.2,"nmax":7.2,"ngem":3.9},
{"d":363,"min":0.4,"max":6.2,"gem":3.3,"nmin":1.7,"nmax":6.8,"ngem":5},
{"d":364,"min":1.8,"max":6.4,"gem":4.2,"nmin":2,"nmax":8,"ngem":5.2},
{"d":365,"min":-2.5,"max":5,"gem":2.1,"nmin":1.5,"nmax":7.6,"ngem":4.5}
]},
"encoding":{"x":{"field":"d","type":"quantitative","axis":null,"scale":{"domain":[0,365],"nice":false,"zero":false}}},
"resolve":{"axis":{"x":"independent","y":"independent"},"scale":{"color":"independent","strokeDash":"independent"}},
"layer":[
{"data":{"values":[{"d":74.5,"v":19.4},{"d":60,"v":14.8},{"d":72,"v":15.5},{"d":85,"v":12.5}]},
"mark":{"type":"point","shape":"circle","filled":true,"size":3000,"color":"#e4f0c8","opacity":0.2,"clip":true},
"encoding":{"x":{"field":"d","type":"quantitative","scale":{"domain":[0,365],"nice":false,"zero":false},"axis":{"orient":"top","values":[],"domain":false,"ticks":false,"labels":false,"grid":false,"title":"2020 • Gemiddelde: 11,6°C (normaal: 10,6°C)","titleFont":"DejaVu Sans","titleFontSize":32.5,"titleFontWeight":"bold","titleColor":"#0f172a","titleX":1620,"titleY":-101,"titleAlign":"right","titleAnchor":null,"titleBaseline":"alphabetic"}},
"y":{"field":"v","type":"quantitative","scale":{"domain":[-7,35],"nice":false,"zero":false},"axis":{"orient":"left","values":[-6,-4,-3,-2,-1,1,2,3,4,6,7,8,9,11,12,13,14,16,17,18,19,21,22,23,24,26,27,28,29,31,32,33,34],"grid":true,"gridColor":"#e6ecf3","gridWidth":2,"ticks":true,"tickColor":"#1e293b","tickSize":4,"tickWidth":1.5,"labels":false,"domain":false,"title":null}}}},
{"data":{"values":[{"d":72,"v":15.7},{"d":82,"v":15.7},{"d":94,"v":16.8},{"d":85,"v":8.5}]},
"mark":{"type":"point","shape":"circle","filled":true,"size":2400,"color":"#bed2eb","opacity":0.16,"clip":true},
"encoding":{"y":{"field":"v","type":"quantitative","axis":null}}},
{"mark":{"type":"area","color":"#60a5fa","opacity":0.06},
"encoding":{"x":{"field":"d","type":"quantitative","scale":{"domain":[0,365],"nice":false,"zero":false},"axis":{"orient":"bottom","values":[0,31,60,91,121,152,182,213,244,274,305,335],"labelExpr":"['jan','feb','mrt','apr','mei','jun','jul','aug','sep','okt','nov','dec'][indexof([0,31,60,91,121,152,182,213,244,274,305,335],datum.value)]","grid":true,"gridColor":"#94a3b8","gridWidth":2,"ticks":false,"domain":false,"labelFont":"DejaVu Sans","labelFontSize":30,"labelFontWeight":"bold","labelColor":"#334155","labelPadding":17,"labelFlush":false,"labelOverlap":false,"labelBound":false,"title":null}},
"y":{"field":"nmin","type":"quantitative","axis":{"orient":"left","values":[-5,0,5,10,15,20,25,30,35],"labelExpr":"''+datum.value","grid":true,"gridColor":"#c3cfdd","gridWidth":2.5,"ticks":false,"domain":false,"labelFont":"DejaVu Sans","labelFontSize":30,"labelFontWeight":"bold","labelColor":"#334155","labelPadding":21,"labelOverlap":false,"labelBound":false,"labelFlush":false,"title":"Temperatuur (°C)","titleFont":"DejaVu Sans","titleFontSize":36,"titleFontWeight":"bold","titleColor":"#334155","titleX":-97,"titleY":360,"titleAnchor":null}},
"y2":{"field":"nmax"}}},
{"data":{"values":[{"v":0}]},"mark":{"type":"rule","color":"#94a3b8","strokeWidth":3},"encoding":{"y":{"field":"v","type":"quantitative","axis":null},"x":{"value":0},"x2":{"value":1620}}},
{"transform":[{"fold":["nmax","max"],"as":["s","v"]}],"mark":{"type":"line","strokeWidth":4.6,"strokeCap":"round","strokeJoin":"round"},
"encoding":{"y":{"field":"v","type":"quantitative","axis":null},
"color":{"field":"s","type":"nominal","scale":{"domain":["max","nmax"],"range":["#f87171","rgba(248,113,113,0.55)"]},"legend":{"orient":"none","legendX":541,"legendY":-68,"direction":"horizontal","columns":2,"title":null,"symbolType":"stroke","symbolSize":4400,"symbolStrokeWidth":4.5,"labelFont":"DejaVu Sans","labelFontSize":27,"labelFontWeight":"bold","labelColor":"#1e293b","labelOffset":10,"labelLimit":400,"columnPadding":17,"labelExpr":"datum.value=='max'?'Maximum':'Normaal'","encoding":{"symbols":{"strokeCap":{"value":"round"}}}}},
"strokeDash":{"field":"s","type":"nominal","scale":{"domain":["max","nmax"],"range":[[1,0],[4,12]]},"legend":{"orient":"none","legendX":541,"legendY":-68,"direction":"horizontal","columns":2,"title":null,"symbolType":"stroke","symbolSize":4400,"symbolStrokeWidth":4.5,"labelFont":"DejaVu Sans","labelFontSize":27,"labelFontWeight":"bold","labelColor":"#1e293b","labelOffset":10,"labelLimit":400,"columnPadding":17,"labelExpr":"datum.value=='max'?'Maximum':'Normaal'","encoding":{"symbols":{"strokeCap":{"value":"round"}}}}}}},
{"transform":[{"fold":["ngem","gem"],"as":["s","v"]}],"mark":{"type":"line","strokeWidth":4,"strokeCap":"round","strokeJoin":"round"},
"encoding":{"y":{"field":"v","type":"quantitative","axis":null},
"color":{"field":"s","type":"nominal","scale":{"domain":["gem","ngem"],"range":["#64748b","rgba(100,116,139,0.55)"]},"legend":{"orient":"none","legendX":1111,"legendY":-68,"direction":"horizontal","columns":2,"title":null,"symbolType":"stroke","symbolSize":4400,"symbolStrokeWidth":4.5,"labelFont":"DejaVu Sans","labelFontSize":27,"labelFontWeight":"bold","labelColor":"#1e293b","labelOffset":10,"labelLimit":400,"columnPadding":17,"labelExpr":"datum.value=='gem'?'Gemiddelde':'Normaal'","encoding":{"symbols":{"strokeCap":{"value":"round"}}}}},
"strokeDash":{"field":"s","type":"nominal","scale":{"domain":["gem","ngem"],"range":[[1,0],[4,9]]},"legend":{"orient":"none","legendX":1111,"legendY":-68,"direction":"horizontal","columns":2,"title":null,"symbolType":"stroke","symbolSize":4400,"symbolStrokeWidth":4.5,"labelFont":"DejaVu Sans","labelFontSize":27,"labelFontWeight":"bold","labelColor":"#1e293b","labelOffset":10,"labelLimit":400,"columnPadding":17,"labelExpr":"datum.value=='gem'?'Gemiddelde':'Normaal'","encoding":{"symbols":{"strokeCap":{"value":"round"}}}}}}},
{"transform":[{"fold":["nmin","min"],"as":["s","v"]}],"mark":{"type":"line","strokeWidth":4.6,"strokeCap":"round","strokeJoin":"round"},
"encoding":{"y":{"field":"v","type":"quantitative","axis":null},
"color":{"field":"s","type":"nominal","scale":{"domain":["min","nmin"],"range":["#60a5fa","rgba(96,165,250,0.55)"]},"legend":{"orient":"none","legendX":7,"legendY":-68,"direction":"horizontal","columns":2,"title":null,"symbolType":"stroke","symbolSize":4400,"symbolStrokeWidth":4.5,"labelFont":"DejaVu Sans","labelFontSize":27,"labelFontWeight":"bold","labelColor":"#1e293b","labelOffset":10,"labelLimit":400,"columnPadding":17,"labelExpr":"datum.value=='min'?'Minimum':'Normaal'","encoding":{"symbols":{"strokeCap":{"value":"round"}}}}},
"strokeDash":{"field":"s","type":"nominal","scale":{"domain":["min","nmin"],"range":[[1,0],[4,12]]},"legend":{"orient":"none","legendX":7,"legendY":-68,"direction":"horizontal","columns":2,"title":null,"symbolType":"stroke","symbolSize":4400,"symbolStrokeWidth":4.5,"labelFont":"DejaVu Sans","labelFontSize":27,"labelFontWeight":"bold","labelColor":"#1e293b","labelOffset":10,"labelLimit":400,"columnPadding":17,"labelExpr":"datum.value=='min'?'Minimum':'Normaal'","encoding":{"symbols":{"strokeCap":{"value":"round"}}}}}}}
]}
